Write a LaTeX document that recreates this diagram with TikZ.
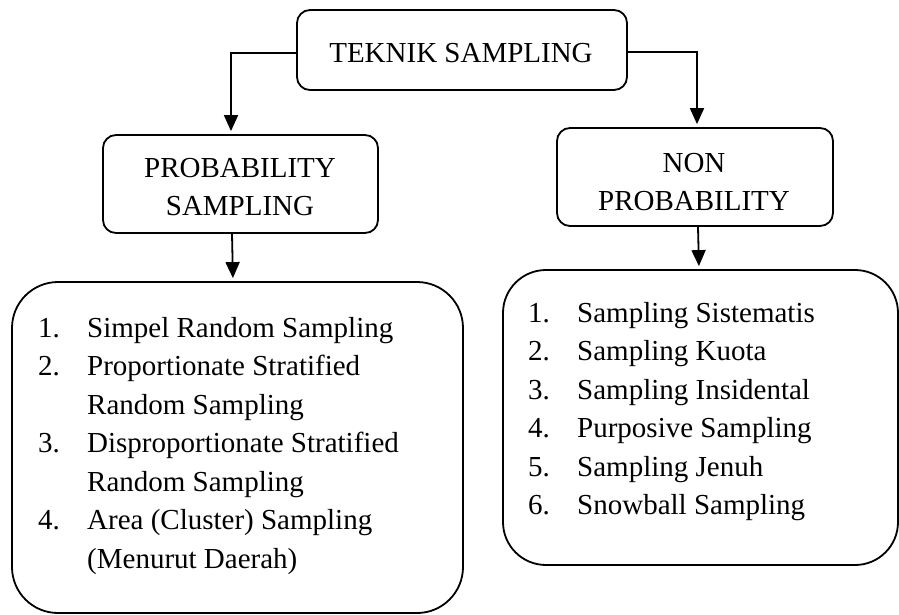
\documentclass[tikz,border=0pt]{standalone}
\usepackage{fontspec}
\setmainfont{Liberation Serif}
\usetikzlibrary{arrows.meta}
\newcommand\numcol[1]{\makebox[49pt][l]{#1}}
\begin{document}
\begin{tikzpicture}[x=1pt,y=-1pt,
  roundbox/.style={draw=black, line width=1.8pt, rectangle, inner sep=0pt},
  lbl/.style={font=\fontsize{29}{38.5}\selectfont, inner sep=0pt},
  arr/.style={line width=1.8pt, shorten >=3pt, -{Triangle[length=16pt,width=14pt]}}
]
\useasboundingbox (0,0) rectangle (899,614);

% boxes
\node[roundbox, rounded corners=13pt, minimum width=330pt, minimum height=80pt] (top) at (462,50) {};
\node[roundbox, rounded corners=13pt, minimum width=275pt, minimum height=98pt] (prob) at (240.5,184) {};
\node[roundbox, rounded corners=13pt, minimum width=276pt, minimum height=98pt] (non) at (695,177) {};
\node[roundbox, rounded corners=46pt, minimum width=451pt, minimum height=331pt] (llist) at (237.5,447.5) {};
\node[roundbox, rounded corners=43pt, minimum width=395pt, minimum height=295pt] (rlist) at (700.5,417.5) {};

% texts
\node[lbl, anchor=base] (toptext) at (461,62) {TEKNIK SAMPLING};
\node[lbl, anchor=base] (probtext) at (240,177) {\begin{tabular}[t]{@{}c@{}}PROBABILITY\\SAMPLING\end{tabular}};
\node[lbl, anchor=base] (nontext) at (694,172) {\begin{tabular}[t]{@{}c@{}}NON\\PROBABILITY\end{tabular}};
\node[lbl, anchor=base west] (ltext) at (38,337) {\begin{tabular}[t]{@{}l@{}l@{}}
\numcol{1.} & Simpel Random Sampling\\
\numcol{2.} & Proportionate Stratified\\
 & Random Sampling\\
\numcol{3.} & Disproportionate Stratified\\
 & Random Sampling\\
\numcol{4.} & Area (Cluster) Sampling\\
 & (Menurut Daerah)
\end{tabular}};
\node[lbl, anchor=base west] (rtext) at (528,322) {\begin{tabular}[t]{@{}l@{}l@{}}
\numcol{1.} & Sampling Sistematis\\
\numcol{2.} & Sampling Kuota\\
\numcol{3.} & Sampling Insidental\\
\numcol{4.} & Purposive Sampling\\
\numcol{5.} & Sampling Jenuh\\
\numcol{6.} & Snowball Sampling
\end{tabular}};

% connectors
\draw[arr] ([yshift=-3pt]top.west) -| ([xshift=-9.5pt]prob.north);
\draw[arr] ([yshift=-2pt]top.east) -| ([xshift=2pt]non.north);
\draw[arr] ([xshift=-8.5pt]prob.south) -- ([xshift=-4.5pt]llist.north);
\draw[arr] ([xshift=3pt]non.south) -- ([xshift=-1.5pt]rlist.north);
\end{tikzpicture}
\end{document}
